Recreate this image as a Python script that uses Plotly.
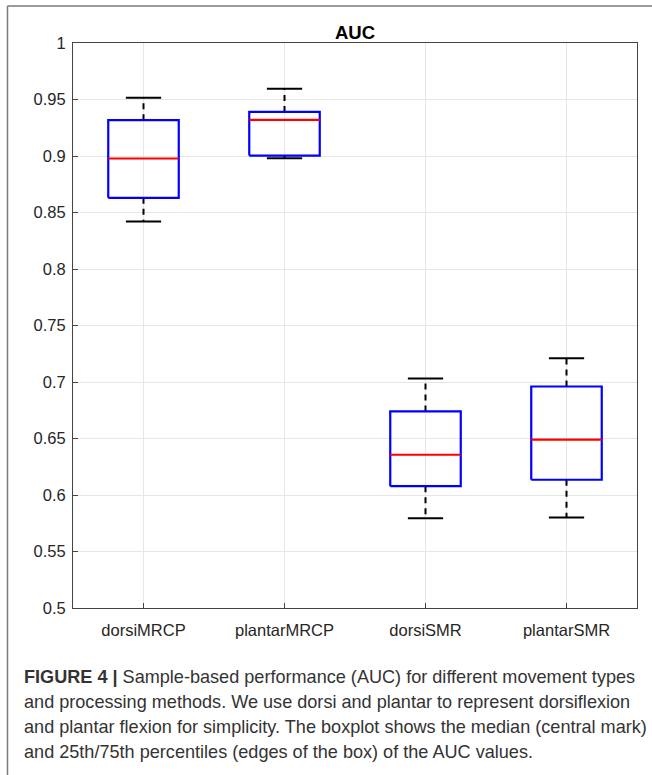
import plotly.graph_objects as go

categories = ["dorsiMRCP", "plantarMRCP", "dorsiSMR", "plantarSMR"]
lower_whisker = [0.842, 0.898, 0.5795, 0.580]
q1 = [0.863, 0.9004, 0.6078, 0.6135]
median = [0.8978, 0.932, 0.6356, 0.649]
q3 = [0.9317, 0.939, 0.674, 0.696]
upper_whisker = [0.9515, 0.9595, 0.703, 0.721]
y_ticks = [0.5, 0.55, 0.6, 0.65, 0.7, 0.75, 0.8, 0.85, 0.9, 0.95, 1]
y_ticktext = ["0.5", "0.55", "0.6", "0.65", "0.7", "0.75", "0.8", "0.85", "0.9", "0.95", "1"]
caption_lines = [
    "<b>FIGURE 4 |</b> Sample-based performance (AUC) for different movement types",
    "and processing methods. We use dorsi and plantar to represent dorsiflexion",
    "and plantar flexion for simplicity. The boxplot shows the median (central mark)",
    "and 25th/75th percentiles (edges of the box) of the AUC values.",
]

W, H = 652, 775
L, R, T, B = 73, 637, 43, 608
pw, ph = R - L, B - T

def px(X):
    return (X - L) / pw

def py(Y):
    return (B - Y) / ph

fig = go.Figure()
box_half = 0.25
cap_half = 0.125
for i, cat in enumerate(categories):
    xc = i + 1
    # whiskers (dashed)
    fig.add_trace(go.Scatter(x=[xc, xc, None, xc, xc],
                             y=[q3[i], upper_whisker[i], None, q1[i], lower_whisker[i]],
                             mode="lines", line=dict(color="black", width=2, dash="6px,5px"),
                             hoverinfo="skip", showlegend=False))
    # caps
    fig.add_trace(go.Scatter(x=[xc - cap_half, xc + cap_half, None, xc - cap_half, xc + cap_half],
                             y=[upper_whisker[i], upper_whisker[i], None, lower_whisker[i], lower_whisker[i]],
                             mode="lines", line=dict(color="black", width=2),
                             hoverinfo="skip", showlegend=False))
    # box
    fig.add_trace(go.Scatter(x=[xc - box_half, xc + box_half, xc + box_half, xc - box_half, xc - box_half],
                             y=[q1[i], q1[i], q3[i], q3[i], q1[i]],
                             mode="lines", line=dict(color="#0000ff", width=2.2),
                             hoverinfo="skip", showlegend=False))
    # median
    fig.add_trace(go.Scatter(x=[xc - box_half, xc + box_half],
                             y=[median[i], median[i]],
                             mode="lines", line=dict(color="#ff0000", width=2.2),
                             hoverinfo="skip", showlegend=False))

axis_font = dict(family="Liberation Sans, Arial, sans-serif", size=16.5, color="#262626")
fig.update_xaxes(range=[0.5, 4.5], tickvals=[1, 2, 3, 4], ticktext=categories,
                 showgrid=True, gridcolor="#e6e6e6", gridwidth=1,
                 showline=True, linecolor="#444444", linewidth=1, mirror=True,
                 ticks="inside", ticklen=5, tickcolor="#444444",
                 tickfont=axis_font, zeroline=False, ticklabelstandoff=7)
fig.update_yaxes(range=[0.5, 1.0], tickvals=y_ticks, ticktext=y_ticktext,
                 showgrid=True, gridcolor="#e6e6e6", gridwidth=1,
                 showline=True, linecolor="#444444", linewidth=1, mirror=True,
                 ticks="inside", ticklen=5, tickcolor="#444444",
                 tickfont=axis_font, zeroline=False, ticklabelstandoff=3)

annotations = [dict(text="<b>AUC</b>", x=0.5, y=py(32), xref="paper", yref="paper",
                    xanchor="center", yanchor="middle", showarrow=False,
                    font=dict(family="Liberation Sans, Arial, sans-serif", size=18.5, color="#000000"))]
for k, line in enumerate(caption_lines):
    annotations.append(dict(text=line, x=px(22), y=py(677 + 25 * k), xref="paper", yref="paper",
                            xanchor="left", yanchor="middle", showarrow=False, align="left",
                            font=dict(family="Liberation Sans, Arial, sans-serif", size=18.1, color="#333333")))

shapes = [
    dict(type="line", xref="paper", yref="paper", x0=px(7.5), x1=px(652), y0=py(6), y1=py(6),
         line=dict(color="#7a7a7a", width=1.5)),
    dict(type="line", xref="paper", yref="paper", x0=px(7.5), x1=px(7.5), y0=py(6), y1=py(775),
         line=dict(color="#7a7a7a", width=1.5)),
]

fig.update_layout(width=W, height=H, margin=dict(l=L, r=W - R, t=T, b=H - B),
                  paper_bgcolor="white", plot_bgcolor="white",
                  annotations=annotations, shapes=shapes, showlegend=False)

fig.write_html("out.html")
